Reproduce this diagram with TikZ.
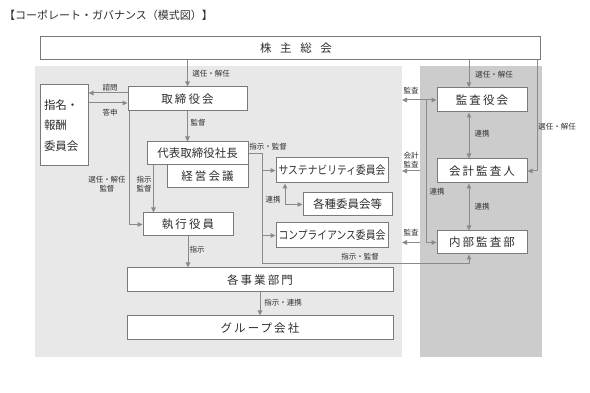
\documentclass[tikz,border=0pt]{standalone}
\usepackage{fontspec}
\usepackage{graphicx}
\setmainfont{Noto Sans CJK JP}
\newfontfamily\jpspaced{Noto Sans CJK JP}[LetterSpace=18]
\newfontfamily\jpwide{Noto Sans CJK JP}[LetterSpace=75]
\usetikzlibrary{arrows.meta,positioning,calc}
\definecolor{ink}{HTML}{2E2E2E}
\definecolor{boxline}{HTML}{7A7A7A}
\definecolor{wire}{HTML}{8A8A8A}
\definecolor{execbg}{HTML}{E8E8E8}
\definecolor{auditbg}{HTML}{CCCCCC}
\newcommand\boxfont{\fontsize{11.5}{13}\selectfont}
\newcommand\boxsp{\jpspaced\fontsize{11.5}{13}\selectfont}
\newcommand\lblfont{\fontsize{7.5}{9}\selectfont}

\begin{document}
\begin{tikzpicture}[x=1pt, y=-1pt,
  box/.style={rectangle, draw=boxline, line width=1pt, fill=white, minimum width=#1, minimum height=23pt,
    inner sep=0pt, align=center, font=\boxfont, text=ink},
  lbl/.style={font=\lblfont, text=ink, inner sep=0pt, align=center},
  arr/.style={-{Triangle[length=5pt,width=4.5pt]}, line width=1pt, wire},
  darr/.style={{Triangle[length=5pt,width=4.5pt]}-{Triangle[length=5pt,width=4.5pt]}, line width=1pt, wire}
]
  \useasboundingbox (0,0) rectangle (590,393);
  \node[anchor=west, inner sep=0pt, text=ink, font=\fontsize{11}{13}\selectfont] (title) at (4,15) {【コーポレート・ガバナンス（模式図）】};

  % executive side and audit side
  \fill[execbg] (35,66) rectangle (402,357);
  \fill[auditbg] (420,66) rectangle (542,357);
  \coordinate (execedge) at (402,66);
  \coordinate (auditedge) at (420,66);

  \node[box=500pt, font=\jpwide\fontsize{11.5}{13}\selectfont] (share) at (290,48.5) {\hspace{12pt}株主総会};
  \node[box=119pt, minimum height=24pt, font=\boxsp] (board) at (187.5,99) {取締役会};
  \node[box=48pt, minimum height=81pt, text width=40pt, align=left, font=\fontsize{11.5}{20.5}\selectfont] (nomi) at (64,125.5) {指名・\\報酬\\委員会};
  \node[box=101pt] (ceo) at (197.5,153.5) {代表取締役社長};
  \node[box=81pt, font=\boxsp] (mgmt) at (207.5,176.5) {経営会議};
  \node[box=90pt, font=\boxsp] (exec) at (188,224.5) {執行役員};
  \node[box=112pt, minimum height=25pt] (sust) at (332,170.5) {\scalebox{0.85}[1]{サステナビリティ委員会}};
  \node[box=89pt] (misc) at (347.5,204.5) {各種委員会等};
  \node[box=112pt, minimum height=25pt] (comp) at (332,235.5) {\scalebox{0.85}[1]{コンプライアンス委員会}};
  \node[box=266pt, minimum height=24pt, font=\boxsp] (bu) at (260,280) {各事業部門};
  \node[box=266pt, minimum height=24pt, font=\boxsp] (group) at (260,328) {グループ会社};
  \node[box=90pt, minimum height=24pt, font=\boxsp] (kansa) at (482,100) {監査役会};
  \node[box=90pt, minimum height=24pt, font=\boxsp] (auditor) at (482,171) {会計監査人};
  \node[box=90pt, font=\boxsp] (internal) at (482,242.5) {内部監査部};

  % shareholders
  \draw[arr] (share.south -| board) -- (board.north);
  \node[lbl] (elect-board) at (211,74) {選任・解任};
  \coordinate (kline) at ([xshift=-13pt]kansa.north);
  \draw[arr] (share.south -| kline) -- (kline);
  \node[lbl] (elect-kansa) at (494,75) {選任・解任};
  \draw[arr] ([xshift=-3pt]share.south east) |- (auditor.east);
  \node[lbl] (elect-auditor) at (557,127) {選任・解任};

  % board
  \draw[arr] ([yshift=6pt]board.west) -- ([yshift=6pt]board.west -| nomi.east);
  \draw[arr] ([yshift=-4pt]board.west -| nomi.east) -- ([yshift=-4pt]board.west);
  \node[lbl] (consult) at (110,88) {諮問};
  \node[lbl] (report) at (110,113) {答申};
  \draw[arr] (board.south) -- (board.south |- ceo.north);
  \node[lbl] (sup-ceo) at (198,123) {監督};
  \draw[arr] ([xshift=2pt]board.south west) |- (exec.west);
  \node[lbl] (sup-exec) at (107,184) {選任・解任\\監督};
  \draw[arr] ([xshift=7pt]ceo.south west) -- ([xshift=7pt]ceo.south west |- exec.north);
  \node[lbl] (dir-exec) at (144,184) {指示\\監督};

  % president to committees
  \coordinate (turn) at ([xshift=-13pt,yshift=-15pt]comp.south west);
  \draw[arr] (ceo.east) -| (turn) -| ([xshift=-13pt]internal.south);
  \draw[arr] (sust.west -| turn) -- (sust.west);
  \draw[arr] (comp.west -| turn) -- (comp.west);
  \node[lbl] (dir-top) at (268,147) {指示・監督};
  \node[lbl] (dir-bottom) at (360,257) {指示・監督};
  \draw[darr] ([xshift=-47pt]sust.south) |- (misc.west);
  \node[lbl] (link-misc) at (273,200) {連携};

  % business lines
  \draw[arr] (exec.south) -- (exec.south |- bu.north);
  \node[lbl] (dir-bu) at (197,250) {指示};
  \draw[arr] (bu.south) -- (group.north);
  \node[lbl] (dir-group) at (283,303) {指示・連携};

  % audit
  \draw[darr] (kansa.west) -- ++(-10,0) |- (internal.west);
  \node[lbl] (link-internal) at (437,192) {連携};
  \draw[arr] ([xshift=-10pt]kansa.west) -- (kansa.west -| execedge);
  \node[lbl] (audit-top) at (411,91) {監査};
  \draw[arr] (auditor.west -| auditedge) -- (auditor.west -| execedge);
  \node[lbl] (audit-mid) at (411,160) {会計\\監査};
  \draw[arr] (internal.west -| auditedge) -- (internal.west -| execedge);
  \node[lbl] (audit-bottom) at (411,233) {監査};
  \draw[darr] ([xshift=-13pt]kansa.south) -- ([xshift=-13pt]auditor.north);
  \node[lbl] (link-a) at (482,134) {連携};
  \draw[darr] ([xshift=-13pt]auditor.south) -- ([xshift=-13pt]internal.north);
  \node[lbl] (link-b) at (482,207) {連携};
\end{tikzpicture}
\end{document}
